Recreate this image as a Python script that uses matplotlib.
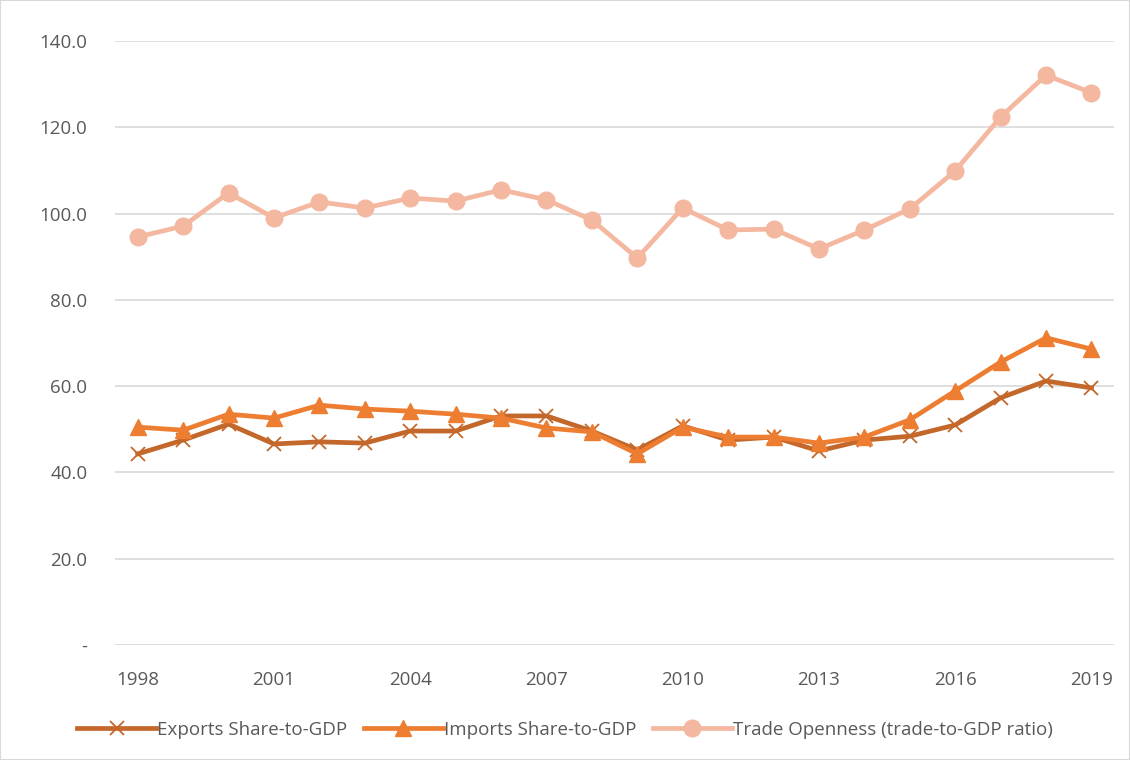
import matplotlib.pyplot as plt
from matplotlib.patches import Rectangle

# values
years = list(range(1998, 2020))
exports = [44.3, 47.5, 51.2, 46.6, 47.1, 46.8, 49.6, 49.6, 53.1, 53.1, 49.6,
           45.2, 50.8, 47.5, 48.2, 45.0, 47.5, 48.4, 51.0, 57.3, 61.2, 59.6]
imports = [50.5, 49.8, 53.5, 52.6, 55.6, 54.7, 54.2, 53.5, 52.6, 50.3, 49.4,
           44.3, 50.5, 48.2, 48.2, 46.8, 48.2, 52.2, 58.9, 65.6, 71.2, 68.6]
openness = [94.6, 97.1, 104.8, 99.0, 102.7, 101.3, 103.6, 102.9, 105.5, 103.2, 98.5,
            89.7, 101.3, 96.2, 96.4, 91.8, 96.2, 101.1, 109.9, 122.4, 132.1, 128.0]
xticks = [1998, 2001, 2004, 2007, 2010, 2013, 2016, 2019]
yticks = [0, 20, 40, 60, 80, 100, 120, 140]

plt.rcParams['font.family'] = ['Open Sans', 'DejaVu Sans']

fig = plt.figure(figsize=(11.3, 7.6), dpi=100)
ax = fig.add_axes([0.1018, 0.1513, 0.8842, 0.7947])

ax.plot(years, exports, color='#C4672A', lw=3.4, marker='x', ms=10, mew=1.3,
        label='Exports Share-to-GDP', zorder=3)
ax.plot(years, imports, color='#ED7D31', lw=3.4, marker='^', ms=11,
        label='Imports Share-to-GDP', zorder=4)
ax.plot(years, openness, color='#F4B8A0', lw=3.4, marker='o', ms=12,
        label='Trade Openness (trade-to-GDP ratio)', zorder=2)

ax.set_xlim(1997.5, 2019.5)
ax.set_ylim(0, 140)
ax.set_xticks(xticks)
ax.set_yticks(yticks)
ax.set_yticklabels(['-' if v == 0 else f'{v:.1f}' for v in yticks])
ax.tick_params(length=0, labelsize=13.5, colors='#595959')
ax.tick_params(axis='x', pad=19)
ax.tick_params(axis='y', pad=20)
ax.grid(axis='y', color='#D9D9D9', lw=1.2)
ax.set_axisbelow(True)
for s in ax.spines.values():
    s.set_visible(False)

fig.legend(loc='center', bbox_to_anchor=(0.5, 0.04), ncol=3, frameon=False,
           fontsize=13.5, labelcolor='#595959', handlelength=4.2,
           handletextpad=0.05, columnspacing=0.9)

fig.patches.append(Rectangle((0, 0), 1, 1, transform=fig.transFigure,
                             fill=False, ec='#D9D9D9', lw=1.5))

fig.savefig('out.png', dpi=100)
